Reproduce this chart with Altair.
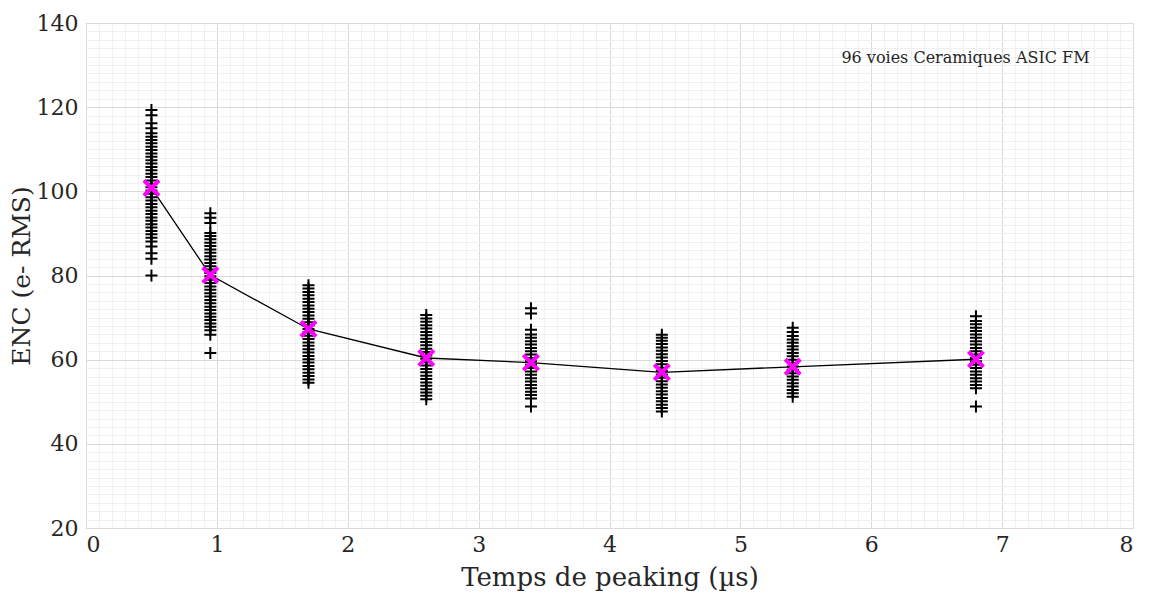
import altair as alt
import pandas as pd

# ---- data ----
peaking = [0.5, 0.95, 1.7, 2.6, 3.4, 4.4, 5.4, 6.8]
enc_mean = [100.8, 80.1, 67.3, 60.4, 59.3, 57.0, 58.3, 60.1]

enc_050 = [80, 84, 85.3, 86.9, 88.1, 89, 89.8, 90.6, 91.4, 92.2, 93, 93.8, 94.6, 95.4,
           96.2, 97, 97.8, 98.6, 99.4, 100.2, 101, 101.8, 102.6, 103.4, 104.2, 105,
           105.8, 106.6, 107.4, 108.2, 109, 109.8, 110.6, 111.4, 112.2, 113, 113.8,
           115, 116.2, 118.1, 119.3]
enc_095 = [61.6, 65.9, 67, 67.8, 68.6, 69.4, 70.2, 71, 71.8, 72.6, 73.4, 74.2, 75,
           75.8, 76.6, 77.4, 78.2, 79, 79.8, 80.6, 81.4, 82.2, 83, 83.8, 84.6, 85.4,
           86.2, 87, 87.8, 88.6, 89.4, 90.1, 92.5, 93.7, 94.8]
enc_170 = [54.5, 55.3, 56.1, 56.9, 57.7, 58.5, 59.3, 60.1, 60.9, 61.7, 62.5, 63.3,
           64.1, 64.9, 65.7, 66.5, 67.3, 68.1, 68.9, 69.7, 70.5, 71.3, 72.1, 72.9,
           73.7, 74.5, 75.3, 76.1, 76.9, 77.7]
enc_260 = [50.6, 51.4, 52.2, 53, 53.8, 54.6, 55.4, 56.2, 57, 57.8, 58.6, 59.4, 60.2,
           61, 61.8, 62.6, 63.4, 64.2, 65, 65.8, 66.6, 67.4, 68.2, 69, 69.8, 70.6]
enc_340 = [48.9, 50.8, 51.6, 52.4, 53.2, 54, 54.8, 55.6, 56.4, 57.2, 58, 58.8, 59.6,
           60.4, 61.2, 62, 62.8, 63.6, 64.4, 65.2, 66, 67.1, 71, 72.2]
enc_440 = [47.7, 48.5, 49.3, 50.1, 50.9, 51.7, 52.5, 53.3, 54.1, 54.9, 55.7, 56.5,
           57.3, 58.1, 58.9, 59.7, 60.5, 61.3, 62.1, 62.9, 63.7, 64.5, 65.2, 65.9]
enc_540 = [51.2, 52, 52.8, 53.6, 54.4, 55.2, 56, 56.8, 57.6, 58.4, 59.2, 60, 60.8,
           61.6, 62.4, 63.2, 64, 64.8, 65.6, 66.6, 67.6]
enc_680 = [48.9, 53.2, 54, 54.8, 55.6, 56.4, 57.2, 58, 58.8, 59.6, 60.4, 61.2, 62,
           62.8, 63.6, 64.4, 65.2, 66, 66.8, 67.6, 68.4, 69.2, 70.3]
channels = [enc_050, enc_095, enc_170, enc_260, enc_340, enc_440, enc_540, enc_680]

x_major = [0, 1, 2, 3, 4, 5, 6, 7, 8]
y_major = [20, 40, 60, 80, 100, 120, 140]
x_minor = [i / 10 for i in range(0, 81)]
y_minor = list(range(20, 141, 2))

note_text = ["96 voies Ceramiques ASIC FM"]
note_x = [6.72]
note_y = [131.7]

# ---- tables ----
rows = []
for xv, vals in zip(peaking, channels):
    for v in vals:
        rows.append({"t": xv, "enc": v})
df_ch = pd.DataFrame(rows)
df_mean = pd.DataFrame({"t": peaking, "enc": enc_mean})
df_note = pd.DataFrame({"t": note_x, "enc": note_y, "txt": note_text})

FONT = "DejaVu Serif"
xscale = alt.Scale(domain=[0, 8], nice=False, zero=False)
yscale = alt.Scale(domain=[20, 140], nice=False, zero=False)

minor = alt.Chart(df_mean).mark_point(opacity=0).encode(
    x=alt.X("t:Q", scale=xscale,
            axis=alt.Axis(values=x_minor, grid=True, gridColor="#f0f0f0", gridWidth=1,
                          labels=False, ticks=False, domain=False, title=None, orient="bottom")),
    y=alt.Y("enc:Q", scale=yscale,
            axis=alt.Axis(values=y_minor, grid=True, gridColor="#f0f0f0", gridWidth=1,
                          labels=False, ticks=False, domain=False, title=None, orient="left")),
)

line = alt.Chart(df_mean).mark_line(color="black", strokeWidth=1.3).encode(
    x=alt.X("t:Q", scale=xscale,
            axis=alt.Axis(values=x_major, grid=True, gridColor="#dadada", ticks=False,
                          domain=False, title="Temps de peaking (µs)", orient="bottom",
                          labelPadding=6, titlePadding=9, format="d")),
    y=alt.Y("enc:Q", scale=yscale,
            axis=alt.Axis(values=y_major, grid=True, gridColor="#dadada", ticks=False,
                          domain=False, title="ENC (e- RMS)", orient="left",
                          labelPadding=8, titlePadding=2, titleFontSize=25)),
)

plus = alt.Chart(df_ch).mark_point(
    shape="M-1,0L1,0M0,-1L0,1", filled=False, color="black", strokeWidth=2, size=144,
    opacity=1,
).encode(x=alt.X("t:Q", scale=xscale), y=alt.Y("enc:Q", scale=yscale))

xmark = alt.Chart(df_mean).mark_point(
    shape="M-1,-1L1,1M1,-1L-1,1", filled=False, color="#ff00ff", strokeWidth=4, size=230,
    opacity=1,
).encode(x=alt.X("t:Q", scale=xscale), y=alt.Y("enc:Q", scale=yscale))

note = alt.Chart(df_note).mark_text(font=FONT, fontSize=16, color="#262626", align="center",
                                    baseline="middle").encode(
    x=alt.X("t:Q", scale=xscale), y=alt.Y("enc:Q", scale=yscale), text="txt:N")

main = alt.layer(line, plus, xmark, note)

chart = alt.layer(minor, main).resolve_axis(x="independent", y="independent").properties(
    width=1047, height=505,
    autosize=alt.AutoSizeParams(type="none"),
    padding={"left": 78, "top": 15, "right": 8, "bottom": 66},
    background="white",
).configure_view(stroke="#7f7f7f", strokeWidth=1).configure_axis(
    labelFont=FONT, labelFontSize=22, labelColor="#262626",
    titleFont=FONT, titleFontSize=26, titleFontWeight="normal", titleColor="#262626",
)

chart.save("out.html", embed_options={"renderer": "svg", "actions": False})
